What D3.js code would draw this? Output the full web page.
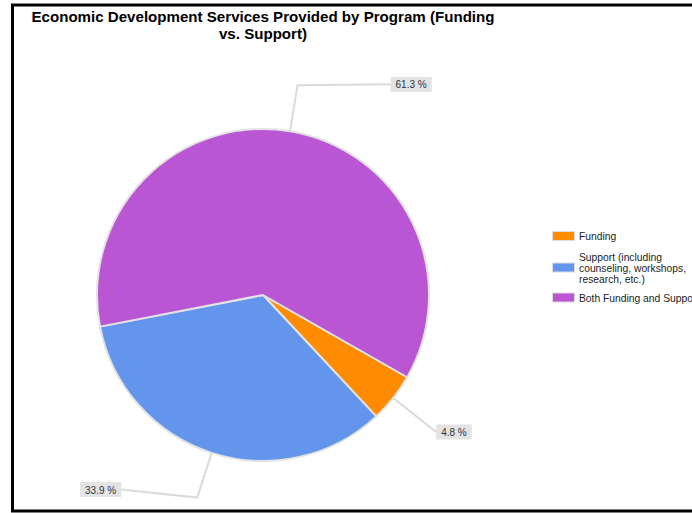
<!DOCTYPE html>
<html>
<head>
<meta charset="utf-8">
<script src="https://cdn.jsdelivr.net/npm/d3@7"></script>
<style>
  html, body { margin: 0; padding: 0; background: #fff; overflow: hidden; }
  svg { display: block; font-family: "Liberation Sans", Arial, sans-serif; }
</style>
</head>
<body>
<svg id="chart" width="692" height="513"></svg>
<script>
// Program service mix
const categories = ["Funding", "Support (including counseling, workshops, research, etc.)", "Both Funding and Support"];
const legendLines = [["Funding"], ["Support (including", "counseling, workshops,", "research, etc.)"], ["Both Funding and Support"]];
const values = [4.8, 33.9, 61.3];
const colors = ["#ff8c00", "#6495ed", "#ba55d3"];
const titleLines = ["Economic Development Services Provided by Program (Funding", "vs. Support)"];

const svg = d3.select("#chart");
const W = 692, H = 513;

// Frame (open on the right)
svg.append("path")
  .attr("d", `M${W + 5},5 H12.5 V511 H${W + 5}`)
  .attr("fill", "none").attr("stroke", "#000").attr("stroke-width", 3);

// Title
svg.append("g").selectAll("text").data(titleLines).join("text")
  .attr("x", 263).attr("y", (d, i) => 22 + i * 17)
  .attr("text-anchor", "middle")
  .attr("font-size", 15.1).attr("font-weight", "bold").attr("fill", "#000")
  .text(d => d);

// Pie
const cx = 263, cy = 295, R = 166;
const pie = d3.pie().sort(null).value(d => d)
  .startAngle(119.7 * Math.PI / 180)
  .endAngle(119.7 * Math.PI / 180 + 2 * Math.PI);
const arcs = pie(values);
const arc = d3.arc().innerRadius(0).outerRadius(R);

const g = svg.append("g").attr("transform", `translate(${cx},${cy})`);
g.selectAll("path").data(arcs).join("path")
  .attr("d", arc)
  .attr("fill", (d, i) => colors[i])
  .attr("stroke", "#e2e2e2").attr("stroke-width", 2).attr("stroke-linejoin", "round");

// Leader lines and value labels
// elbow: radius factor of the bend; run: horizontal offset to the label anchor; rise: vertical offset
const labelLayout = [
  { elbow: 1.33, run: 0, rise: 0, anchor: "start" },
  { elbow: 1.283, run: -76, rise: -8, anchor: "end" },
  { elbow: 1.28, run: 93, rise: -1, anchor: "start" }
];
const fmt = v => v.toFixed(1) + " %";
const polar = (a, r) => [Math.sin(a) * r, -Math.cos(a) * r];

const labels = g.append("g");
arcs.forEach((d, i) => {
  const L = labelLayout[i];
  const mid = (d.startAngle + d.endAngle) / 2;
  const p0 = polar(mid, R);
  const p1 = polar(mid, R * L.elbow);
  const p2 = [p1[0] + L.run, p1[1] + L.rise];
  labels.append("path")
    .attr("d", d3.line()([p0, p1, p2]))
    .attr("fill", "none").attr("stroke", "#dadada").attr("stroke-width", 2);
  const lg = labels.append("g");
  const t = lg.append("text")
    .attr("font-size", 10).attr("fill", "#333")
    .attr("dominant-baseline", "central")
    .text(fmt(values[i]));
  const tw = t.node().getComputedTextLength();
  const bw = tw + 10, bh = 15;
  const bx = L.anchor === "start" ? p2[0] : p2[0] - bw;
  lg.insert("rect", "text")
    .attr("x", bx).attr("y", p2[1] - bh / 2)
    .attr("width", bw).attr("height", bh)
    .attr("fill", "#e3e3e3");
  t.attr("x", bx + 5).attr("y", p2[1] + 0.5);
});

// Legend (last entry runs past the right edge of the chart area)
const legend = svg.append("g").attr("transform", "translate(552,0)");
const rowTop = [231.5, 252, 293];
const lineH = 11;
legendLines.forEach((lines, i) => {
  const nLines = lines.length;
  const textTop = rowTop[i];
  const midY = textTop + (nLines * lineH) / 2 - 1;
  legend.append("rect")
    .attr("x", 0.5).attr("y", midY - 4.5)
    .attr("width", 22).attr("height", 9)
    .attr("fill", colors[i]).attr("stroke", "#dcdcdc").attr("stroke-width", 1);
  legend.append("g").selectAll("text").data(lines).join("text")
    .attr("x", 27).attr("y", (l, j) => textTop + 8.5 + j * lineH)
    .attr("font-size", 10.3).attr("fill", "#222")
    .text(l => l);
});
</script>
</body>
</html>
